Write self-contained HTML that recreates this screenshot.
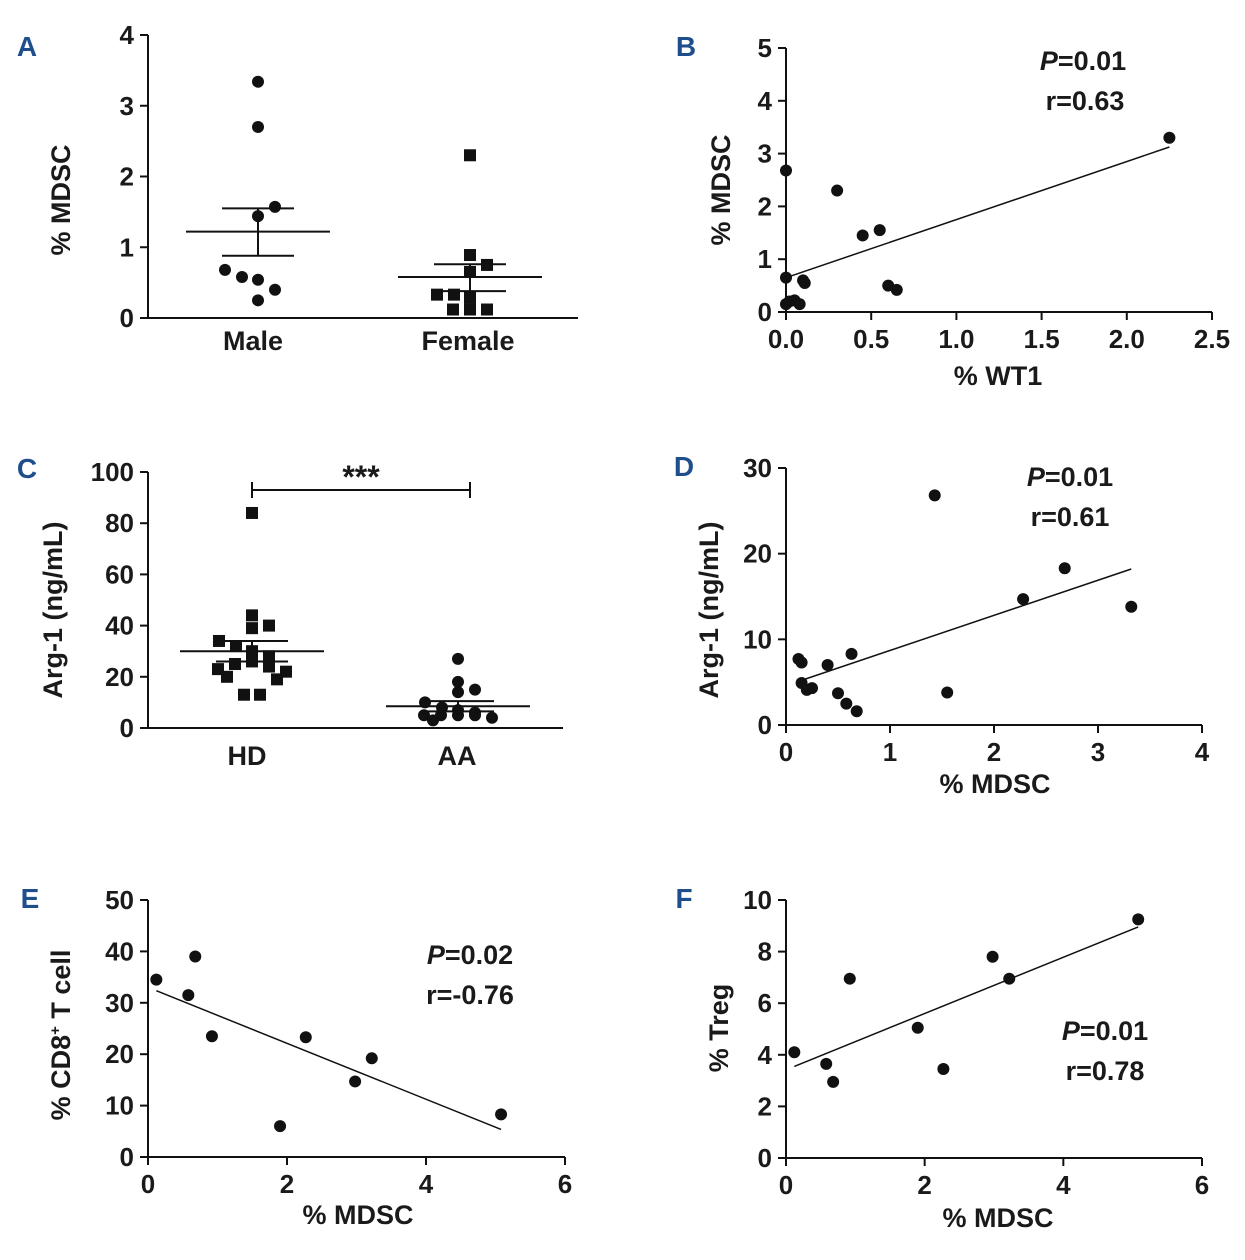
<!DOCTYPE html>
<html><head><meta charset="utf-8"><style>
body{margin:0;background:#fff}
svg text{font-family:"Liberation Sans",Arial,sans-serif;font-weight:bold;fill:#1a1a1a}
</style></head><body>
<svg id="s" width="1245" height="1255" viewBox="0 0 1245 1255"></svg>
<script>
// Panel A data
const aMale=[3.34,2.70,1.57,1.44,0.68,0.58,0.54,0.40,0.25];
const aFemale=[2.30,0.89,0.75,0.65,0.33,0.33,0.29,0.12,0.12,0.12];
const aStats=[[1.22,1.55,0.88],[0.58,0.76,0.38]];
// Panel B data
const bX=[0,0.3,0.45,0.55,0.6,0.65,0.1,0.11,0,0,0.02,0.05,0.08,2.25];
const bY=[2.68,2.3,1.45,1.55,0.5,0.42,0.6,0.55,0.65,0.15,0.2,0.22,0.15,3.3];
const bFit=[0.65,1.1];
// Panel C data
const cHD=[84,44,40,39,34,32,30,28,26,25,24,23,22,20,19,13,13];
const cAA=[27,18,15,14,10,8,7,6,5,5,5,5,4,3];
const cStats=[[30,34,26],[8.5,10.5,6.5]];
// Panel D data
const dX=[1.43,2.68,2.28,3.32,0.12,0.15,0.4,0.63,0.15,0.2,0.25,0.5,0.58,0.68,1.55];
const dY=[26.8,18.3,14.7,13.8,7.7,7.3,7.0,8.3,4.9,4.1,4.3,3.7,2.5,1.6,3.8];
const dFit=[4.6,4.1];
// Panel E data
const eX=[0.12,0.68,0.58,0.92,1.9,2.27,2.98,3.22,5.08];
const eY=[34.5,39,31.5,23.5,6,23.3,14.7,19.2,8.3];
const eFit=[33.0,-5.44];
// Panel F data
const fX=[0.12,0.58,0.68,0.92,1.9,2.27,2.98,3.22,5.08];
const fY=[4.1,3.65,2.95,6.95,5.05,3.45,7.8,6.95,9.25];
const fFit=[3.42,1.09];

const S=document.getElementById('s');const NS='http://www.w3.org/2000/svg';
function el(t,a,txt){const e=document.createElementNS(NS,t);for(const k in a)e.setAttribute(k,a[k]);if(txt!==undefined)e.textContent=txt;S.appendChild(e);return e;}
function line(x1,y1,x2,y2,w,name){const e=el('line',{x1,y1,x2,y2,stroke:'#111','stroke-width':w||2});

return e;}
function text(x,y,s,size,anchor,name,rot){const a={x,y,'font-size':size,'text-anchor':anchor||'middle'};if(rot)a.transform=`rotate(-90 ${x} ${y})`;const e=el('text',a,s);

return e;}
function dot(x,y,sq,name){let e;if(sq)e=el('rect',{x:x-6,y:y-6,width:12,height:12,fill:'#111'});else e=el('circle',{cx:x,cy:y,r:6,fill:'#111'});

}
function letter(x,y,s){const e=el('text',{x,y,'font-size':28,'text-anchor':'middle',style:'fill:#1f4e8c'},s);

}
function yAxis(x,y0,y1,v0,v1,ticks,fmt,p){const sy=v=>y0+(v-v0)/(v1-v0)*(y1-y0);line(x,y0,x,y1,2,p+'-y-axis');
ticks.forEach(t=>{line(x-8,sy(t),x,sy(t),2,p+'-y-tick');text(x-14,sy(t)+9,fmt(t),26,'end',p+'-y-tick-label');});return sy;}
function xAxis(y,x0,x1,v0,v1,ticks,fmt,p){const sx=v=>x0+(v-v0)/(v1-v0)*(x1-x0);line(x0,y,x1,y,2,p+'-x-axis');
ticks.forEach(t=>{line(sx(t),y,sx(t),y+8,2,p+'-x-tick');text(sx(t),y+36,fmt(t),26,'middle',p+'-x-tick-label');});return sx;}
const id=v=>String(v);
const jit=[0,0,17,0,-33,-16,0,17,0,-17,17,-34,34,-25,25,-8,8];
function group(cx,vals,sy,sq,st,p){vals.forEach((v,i)=>dot(cx+jit[i%jit.length],sy(v),sq,p+'-point'));
line(cx-72,sy(st[0]),cx+72,sy(st[0]),2,p+'-mean');line(cx-36,sy(st[1]),cx+36,sy(st[1]),2,p+'-sem-upper');line(cx-36,sy(st[2]),cx+36,sy(st[2]),2,p+'-sem-lower');line(cx,sy(st[1]),cx,sy(st[2]),2,p+'-sem-bar');}
function scatter(xs,ys,sx,sy,fit,p){xs.forEach((x,i)=>dot(sx(x),sy(ys[i]),false,p+'-point'));
const xmin=Math.min(...xs),xmax=Math.max(...xs);line(sx(xmin),sy(fit[0]+fit[1]*xmin),sx(xmax),sy(fit[0]+fit[1]*xmax),1.5,p+'-regression-line');}

// A
letter(27,56,'A');
let sy=yAxis(148,318,35,0,4,[0,1,2,3,4],id,'a');line(148,318,578,318,2,'a-x-axis');
text(253,350,'Male',27,'middle','a-category-male');text(468,350,'Female',27,'middle','a-category-female');
text(70,200,'% MDSC',27,'middle','a-y-title',true);
group(258,aMale,sy,false,aStats[0],'a-male');group(470,aFemale,sy,true,aStats[1],'a-female');
// B
letter(686,56,'B');
sy=yAxis(786,312,48,0,5,[0,1,2,3,4,5],id,'b');let sx=xAxis(312,786,1212,0,2.5,[0,0.5,1,1.5,2,2.5],v=>v.toFixed(1),'b');
text(730,190,'% MDSC',27,'middle','b-y-title',true);text(998,385,'% WT1',27,'middle','b-x-title');
const bp=text(1083,70,'',27,'middle','b-p-value');bp.innerHTML='<tspan font-style="italic">P</tspan>=0.01';text(1085,110,'r=0.63',27,'middle','b-r-value');
scatter(bX,bY,sx,sy,bFit,'b');
// C
letter(27,478,'C');
sy=yAxis(148,728,472,0,100,[0,20,40,60,80,100],id,'c');line(148,728,563,728,2,'c-x-axis');
text(247,765,'HD',27,'middle','c-category-hd');text(457,765,'AA',27,'middle','c-category-aa');
text(62,610,'Arg-1 (ng/mL)',27,'middle','c-y-title',true);
line(252,490,470,490,2,'c-significance-bracket');line(252,482,252,498,2,'c-bracket-left');line(470,482,470,498,2,'c-bracket-right');
text(361,488,'***',32,'middle','c-significance-stars');
group(252,cHD,sy,true,cStats[0],'c-hd');group(458,cAA,sy,false,cStats[1],'c-aa');
// D
letter(684,476,'D');
sy=yAxis(786,725,468,0,30,[0,10,20,30],id,'d');sx=xAxis(725,786,1202,0,4,[0,1,2,3,4],id,'d');
text(718,610,'Arg-1 (ng/mL)',27,'middle','d-y-title',true);text(995,793,'% MDSC',27,'middle','d-x-title');
const dp=text(1070,486,'',27,'middle','d-p-value');dp.innerHTML='<tspan font-style="italic">P</tspan>=0.01';text(1070,526,'r=0.61',27,'middle','d-r-value');
scatter(dX,dY,sx,sy,dFit,'d');
// E
letter(30,908,'E');
sy=yAxis(148,1157,900,0,50,[0,10,20,30,40,50],id,'e');sx=xAxis(1157,148,565,0,6,[0,2,4,6],id,'e');
const et=text(70,1035,'',27,'middle','e-y-title',true);et.innerHTML='%  CD8<tspan font-size="15" dy="-10">+</tspan><tspan dy="10"> T cell</tspan>';
text(358,1224,'% MDSC',27,'middle','e-x-title');
const ep=text(470,964,'',27,'middle','e-p-value');ep.innerHTML='<tspan font-style="italic">P</tspan>=0.02';text(470,1004,'r=-0.76',27,'middle','e-r-value');
scatter(eX,eY,sx,sy,eFit,'e');
// F
letter(684,908,'F');
sy=yAxis(786,1158,900,0,10,[0,2,4,6,8,10],id,'f');sx=xAxis(1158,786,1202,0,6,[0,2,4,6],id,'f');
text(728,1028,'%  Treg',27,'middle','f-y-title',true);text(998,1227,'% MDSC',27,'middle','f-x-title');
const fp=text(1105,1040,'',27,'middle','f-p-value');fp.innerHTML='<tspan font-style="italic">P</tspan>=0.01';text(1105,1080,'r=0.78',27,'middle','f-r-value');
scatter(fX,fY,sx,sy,fFit,'f');
</script>
</body></html>
